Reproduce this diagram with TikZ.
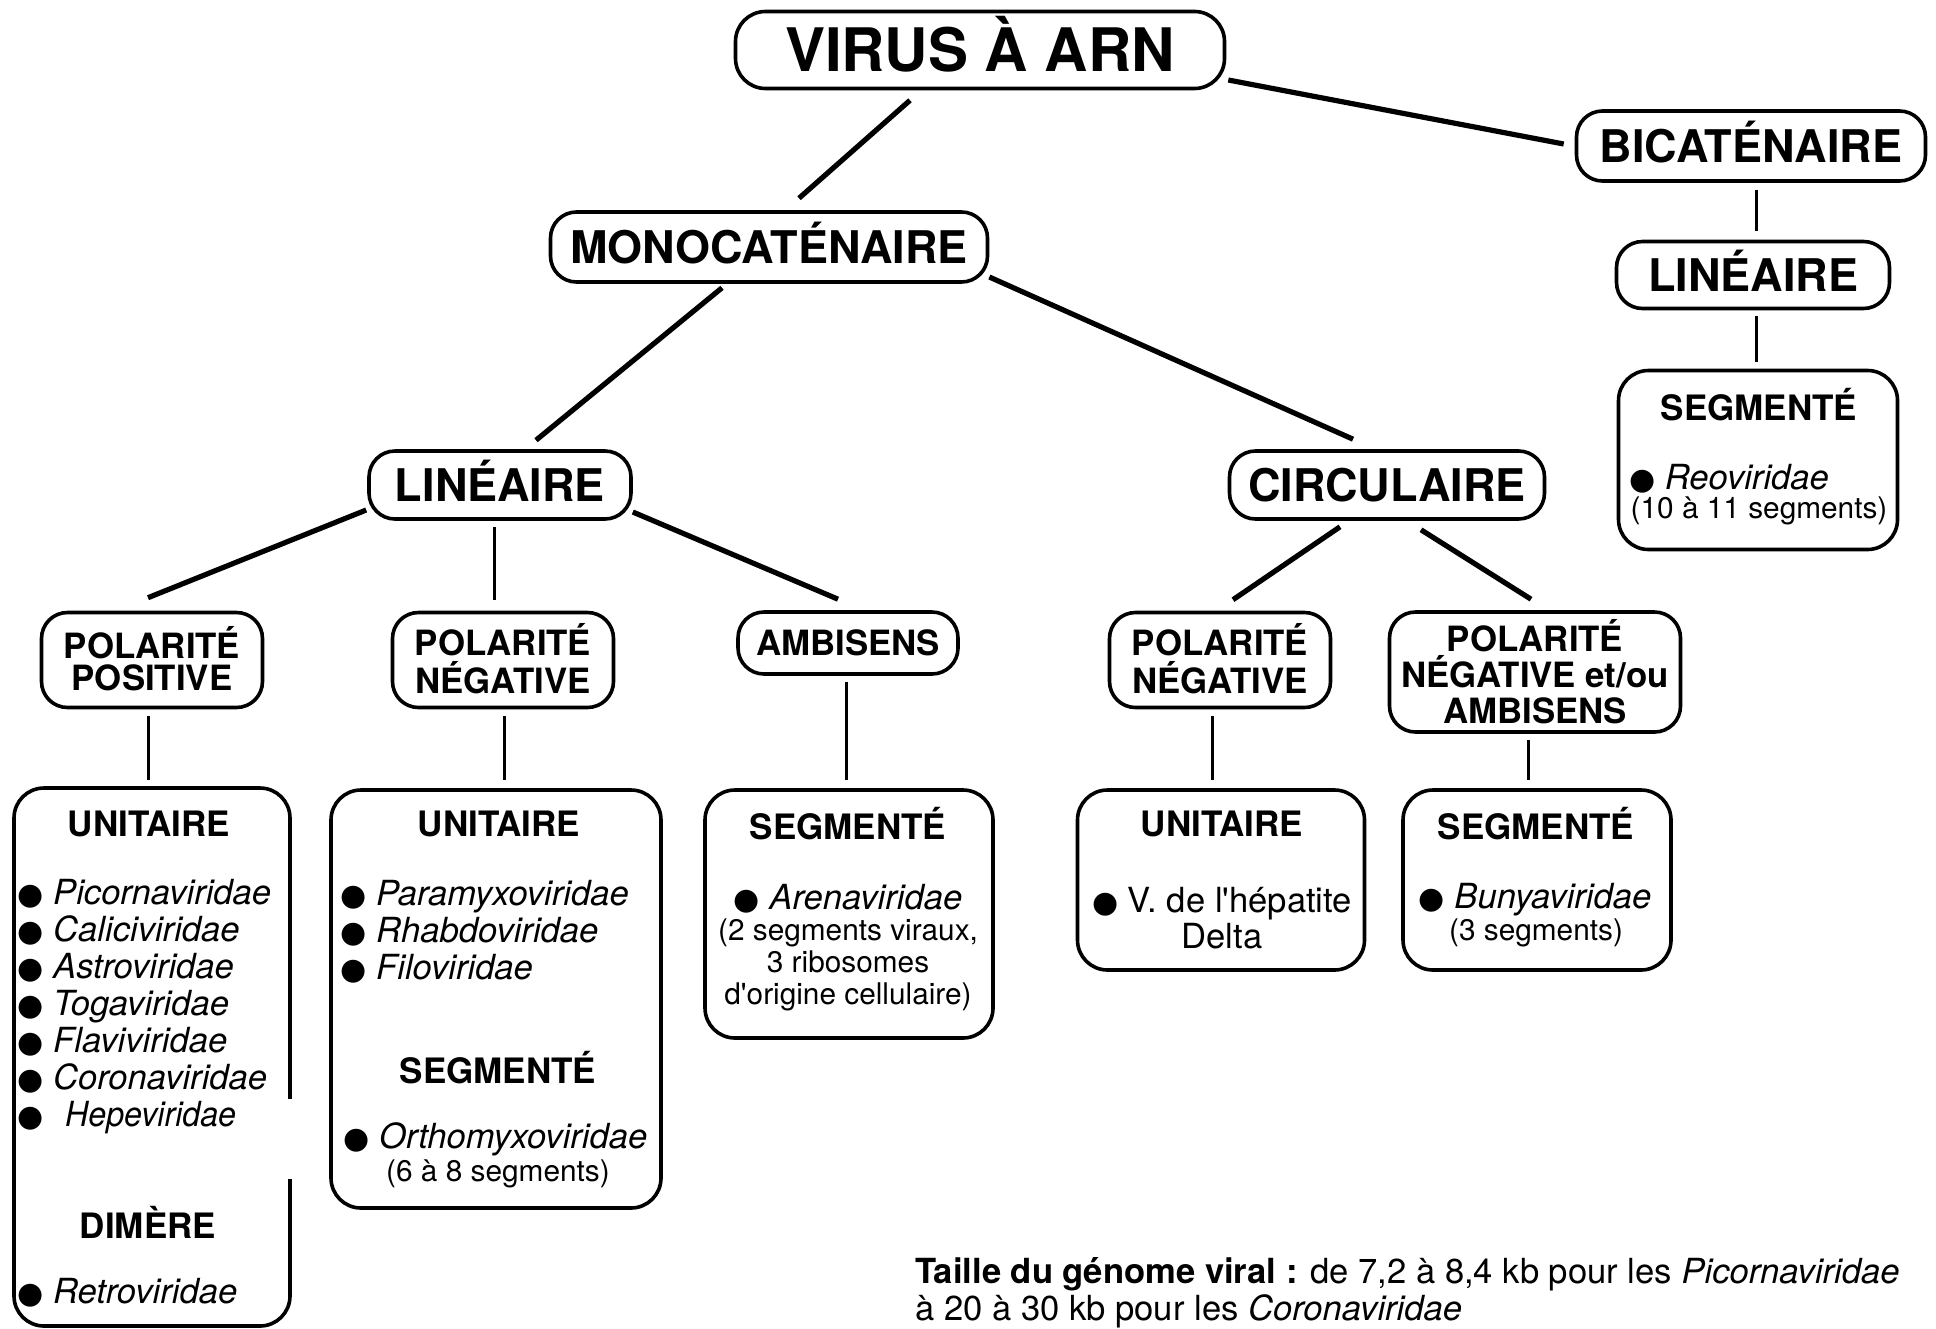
\documentclass[tikz,border=0pt]{standalone}
\usepackage{fontspec}
\setmainfont{TeX Gyre Heros}
\newfontfamily\symfont{DejaVu Sans}
\usetikzlibrary{calc}
\newcommand{\bul}{{\symfont\fontsize{15}{15}\selectfont ●}\ }
\newcommand{\apos}{{\XeTeXglyph\XeTeXcharglyph"0027}}
\tikzset{
  pill/.style={draw, line width=1.8pt, rounded corners=13pt, inner sep=0pt, align=center,
    text height=16.2pt, text depth=0pt,
    font=\bfseries\fontsize{22.5}{24}\selectfont},
  spill/.style={draw, line width=1.8pt, rounded corners=13pt, inner sep=0pt, align=center,
    font=\bfseries\fontsize{17.4}{18}\selectfont},
  bigbox/.style={draw, line width=1.8pt, rounded corners=15pt, inner sep=0pt},
  ttl/.style={inner sep=0pt, font=\bfseries\fontsize{17.5}{18.5}\selectfont},
  item/.style={inner sep=0pt, align=left, font=\fontsize{17.3}{18.5}\selectfont},
  citem/.style={inner sep=0pt, align=center, font=\fontsize{17.3}{18}\selectfont},
  small/.style={inner sep=0pt, align=center, font=\fontsize{14.9}{16}\selectfont},
  slink/.style={line width=2.6pt},
  vlink/.style={line width=1.5pt}
}
\begin{document}
\begin{tikzpicture}[x=0.5pt,y=-0.5pt]
\useasboundingbox (0,0) rectangle (1936,1328);

% top levels
\node[pill, font=\bfseries\fontsize{30}{32}\selectfont, rounded corners=15pt,
  text height=21.6pt, minimum width=244.5pt, minimum height=38.5pt] (virus) at (980,50) {VIRUS À ARN};
\node[pill, minimum width=174.5pt, minimum height=35pt] (bicat) at (1751,146) {BICATÉNAIRE};
\node[pill, minimum width=136.5pt, minimum height=33.5pt] (linR) at (1753,275) {LINÉAIRE};
\node[pill, minimum width=218.5pt, minimum height=35pt] (mono) at (769,247) {MONOCATÉNAIRE};
\node[pill, minimum width=131pt, minimum height=34pt] (linL) at (500,485) {LINÉAIRE};
\node[pill, minimum width=157.5pt, minimum height=34pt] (circ) at (1387,485) {CIRCULAIRE};

% polarity level
\node[spill, minimum width=110.5pt, minimum height=47.5pt] (pos) at (152,660) {\raisebox{1.5pt}{\shortstack{POLARITÉ\\POSITIVE}}};
\node[spill, minimum width=110.5pt, minimum height=47.5pt] (negL) at (503,660) {\raisebox{1.5pt}{\shortstack{POLARITÉ\\NÉGATIVE}}};
\node[spill, minimum width=110pt, minimum height=31pt, text height=12.5pt, text depth=0pt] (amb) at (848,643) {AMBISENS};
\node[spill, minimum width=110.5pt, minimum height=47.5pt] (negC) at (1220,660) {\raisebox{1.5pt}{\shortstack{POLARITÉ\\NÉGATIVE}}};
\node[spill, minimum width=145.5pt, minimum height=60pt] (negamb) at (1535,672) {POLARITÉ\\NÉGATIVE et/ou\\AMBISENS};

% right segmented box
\node[bigbox, minimum width=139.5pt, minimum height=89.5pt] (segR) at (1758,460) {};
\node[ttl] (tR) at (1759,405) {SEGMENTÉ};
\node[item] (lR) at (1729,479) {\bul\textit{Reoviridae}};
\node[small] (nR) at (1759,511) {(10 à 11 segments)};

% box 1
\node[bigbox, minimum width=138pt, minimum height=269pt] (box1) at (152,1057) {};
\fill[white] (280,1099) rectangle (300,1179);
\node[ttl] (t1) at (149,824) {UNITAIRE};
\node[item, anchor=west] (l1) at (17,1007) {\bul\textit{Picornaviridae}\\\bul\textit{Caliciviridae}\\\bul\textit{Astroviridae}\\\bul\textit{Togaviridae}\\\bul\textit{Flaviviridae}\\\bul\textit{Coronaviridae}\\\bul\hspace{6pt}\textit{\scalebox{0.93}[1]{Hepeviridae}}};
\node[ttl] (t1b) at (148,1222) {DIMÈRE};
\node[item, anchor=west] (l1b) at (17,1293) {\bul\textit{Retroviridae}};

% box 2
\node[bigbox, minimum width=165pt, minimum height=209pt] (box2) at (496,999) {};
\node[ttl] (t2) at (499,824) {UNITAIRE};
\node[item, anchor=west] (l2) at (340,932) {\bul\textit{Paramyxoviridae}\\\bul\textit{Rhabdoviridae}\\\bul\textit{Filoviridae}};
\node[ttl] (t2b) at (498,1068) {SEGMENTÉ};
\node[item, anchor=west] (l2b) at (343,1139) {\bul\textit{Orthomyxoviridae}};
\node[small] (n2b) at (498,1174) {(6 à 8 segments)};

% box 3
\node[bigbox, minimum width=144pt, minimum height=124pt] (box3) at (849,914) {};
\node[ttl] (t3) at (848,824) {SEGMENTÉ};
\node[item] (l3) at (848,899) {\bul\textit{Arenaviridae}};
\node[small] (n3) at (848,965) {(2 segments viraux,\\3 ribosomes\\d\apos origine cellulaire)};

% box 4
\node[bigbox, minimum width=143.5pt, minimum height=90pt] (box4) at (1221,880) {};
\node[ttl] (t4) at (1222,824) {UNITAIRE};
\node[citem] (l4) at (1222,918) {\bul V. de l\apos hépatite\\Delta};

% box 5
\node[bigbox, minimum width=134pt, minimum height=90pt] (box5) at (1537,880) {};
\node[ttl] (t5) at (1536,824) {SEGMENTÉ};
\node[item] (l5) at (1535,900) {\bul\textit{Bunyaviridae}};
\node[small] (n5) at (1536,933) {(3 segments)};

% footer
\node[item, anchor=west] (foot) at (915,1293) {\textbf{Taille du génome viral :} de 7,2 à 8,4 kb pour les \textit{Picornaviridae}\\à 20 à 30 kb pour les \textit{Coronaviridae}};

% connectors
\draw[slink] ($(virus.south)+(-70,10)$) -- ($(mono.north)+(30,-12)$);
\draw[slink] ($(virus.east)+(2,30)$) -- ($(bicat.west)+(-11,-2)$);
\draw[vlink] ($(bicat.south)+(5,7)$) -- ($(linR.north)+(3,-9)$);
\draw[vlink] ($(linR.south)+(3,6)$) -- ($(segR.north)+(-2,-7)$);
\draw[slink] ($(mono.south)+(-47,4)$) -- ($(linL.north)+(36,-9)$);
\draw[slink] ($(mono.east)+(0,30)$) -- ($(circ.north)+(-34,-10)$);
\draw[slink] ($(linL.west)+(-1,25)$) -- ($(pos.north)+(-4,-13)$);
\draw[vlink] ($(linL.south)+(-6,6)$) -- ($(negL.north)+(-9,-11)$);
\draw[slink] ($(linL.east)+(0,27)$) -- ($(amb.north)+(-10,-11)$);
\draw[slink] ($(circ.south)+(-47,6)$) -- ($(negC.north)+(13,-11)$);
\draw[slink] ($(circ.south)+(34,9)$) -- ($(negamb.north)+(-4,-11)$);
\draw[vlink] ($(pos.south)+(-4,7)$) -- ($(box1.north)+(-4,-6)$);
\draw[vlink] ($(negL.south)+(1,7)$) -- ($(box2.north)+(8,-8)$);
\draw[vlink] ($(amb.south)+(-2,6)$) -- ($(box3.north)+(-3,-8)$);
\draw[vlink] ($(negC.south)+(-8,7)$) -- ($(box4.north)+(-9,-8)$);
\draw[vlink] ($(negamb.south)+(-7,6)$) -- ($(box5.north)+(-9,-8)$);
\end{tikzpicture}
\end{document}
